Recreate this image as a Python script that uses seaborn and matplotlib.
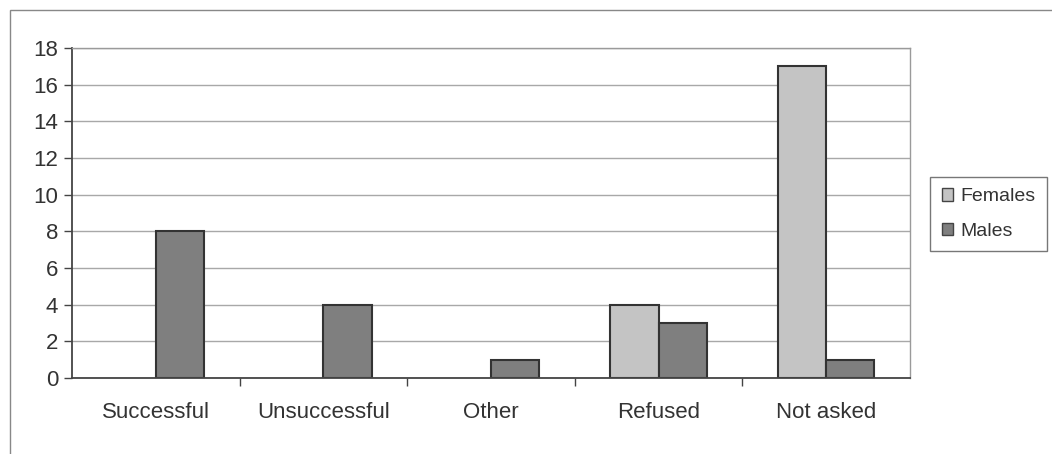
import pandas as pd
import seaborn as sns
import matplotlib.pyplot as plt
from matplotlib.patches import Rectangle

categories = ["Successful", "Unsuccessful", "Other", "Refused", "Not asked"]
females = [0, 0, 0, 4, 17]
males = [8, 4, 1, 3, 1]
yticks = [0, 2, 4, 6, 8, 10, 12, 14, 16, 18]

data = pd.DataFrame({
    "category": categories * 2,
    "count": females + males,
    "sex": ["Females"] * len(categories) + ["Males"] * len(categories),
})

sns.set_style("white")
plt.rcParams['font.family'] = ['Liberation Sans', 'DejaVu Sans']

fig = plt.figure(figsize=(10.52, 4.54), dpi=100)
ax = fig.add_axes([72 / 1052, 1 - 378 / 454, (910 - 72) / 1052, (378 - 48) / 454])

sns.barplot(data=data, x="category", y="count", hue="sex", order=categories,
            palette={"Females": "#c4c4c4", "Males": "#7f7f7f"}, width=0.575,
            edgecolor="#333333", linewidth=1.5, ax=ax, legend=False)

# empty bars should not leave an outline on the axis
for p in ax.patches:
    if p.get_height() == 0:
        p.set_linewidth(0)

ax.set_ylim(0, 18)
ax.set_xlim(-0.5, len(categories) - 0.5)
ax.set_yticks(yticks)
ax.set_xticks([i - 0.5 for i in range(1, len(categories))], minor=True)
ax.set_xticks(range(len(categories)))
ax.set_xticklabels(categories)
ax.grid(axis="y", color="#a8a8a8", linewidth=1)
ax.set_axisbelow(True)
ax.set_xlabel("")
ax.set_ylabel("")

for side in ["top", "right"]:
    ax.spines[side].set_color("#9a9a9a")
    ax.spines[side].set_linewidth(1)
for side in ["left", "bottom"]:
    ax.spines[side].set_color("#444444")
    ax.spines[side].set_linewidth(1.3)

ax.tick_params(axis="y", which="major", direction="out", length=6, width=1,
               color="#444444", labelsize=16, labelcolor="#333333", pad=4, left=True)
ax.tick_params(axis="x", which="major", length=0, labelsize=16,
               labelcolor="#333333", pad=17)
ax.tick_params(axis="x", which="minor", direction="out", length=6, width=1,
               color="#444444", bottom=True)

handles = [Rectangle((0, 0), 1, 1, facecolor="#c4c4c4", edgecolor="#444444"),
           Rectangle((0, 0), 1, 1, facecolor="#7f7f7f", edgecolor="#444444")]
leg = fig.legend(handles, ["Females", "Males"], loc="center left",
                 bbox_to_anchor=(930 / 1052, 1 - 214 / 454), fontsize=14,
                 frameon=True, fancybox=False, handlelength=0.6, handleheight=0.6,
                 handletextpad=0.35, labelspacing=0.9, borderpad=0.6,
                 borderaxespad=0)
leg.get_frame().set_edgecolor("#555555")
leg.get_frame().set_linewidth(1)
for t in leg.get_texts():
    t.set_color("#333333")

fig.add_artist(Rectangle((10 / 1052, -0.05), 1.0, 1 - 10 / 454 + 0.05,
                         transform=fig.transFigure, fill=False,
                         edgecolor="#888888", linewidth=1))

fig.savefig("out.png", dpi=100)
